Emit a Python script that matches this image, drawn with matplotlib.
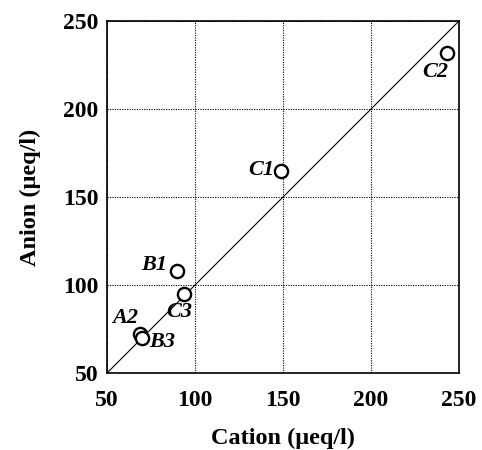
import matplotlib
matplotlib.use("Agg")
import matplotlib.pyplot as plt

labels = ["C2", "C1", "B1", "C3", "A2", "B3"]
cation = [243, 149, 90, 94, 69, 70]
anion = [232, 165, 108, 95, 72, 70]
label_x = [236.5, 137.5, 77, 91, 60.5, 81.5]
label_y = [221, 165.5, 111.5, 84.5, 81.5, 67.5]
ticks = [50, 100, 150, 200, 250]

plt.rcParams['font.family'] = ['Liberation Serif', 'DejaVu Serif']

fig = plt.figure(figsize=(4.82, 4.5), dpi=100)
ax = fig.add_axes([0.222, 0.171, 0.730, 0.782])
ax.set_xlim(50, 250)
ax.set_ylim(50, 250)
ax.set_xticks(ticks)
ax.set_yticks(ticks)
ax.set_xticklabels([str(t) for t in ticks], fontweight='bold', fontsize=17)
ax.set_yticklabels([str(t) for t in ticks], fontweight='bold', fontsize=17)
ax.tick_params(axis='x', length=0, pad=12)
ax.tick_params(axis='y', length=0, pad=6)
ax.grid(True, color='black', linestyle=(0, (1.0, 1.2)), linewidth=0.8)
ax.set_axisbelow(True)
for s in ax.spines.values():
    s.set_linewidth(1.2)
    s.set_color('black')

ax.plot([50, 250], [50, 250], color='black', linewidth=0.8)
ax.plot(cation, anion, linestyle='none', marker='o', markersize=9.5,
        markerfacecolor='white', markeredgecolor='black', markeredgewidth=1.7)
for t, x, y in zip(labels, label_x, label_y):
    ax.text(x, y, t, fontsize=16, fontweight='bold', fontstyle='italic',
            ha='center', va='center')

ax.set_xlabel('Cation (μeq/l)', fontsize=17.5, fontweight='bold', labelpad=12)
ax.set_ylabel('Anion (μeq/l)', fontsize=17.5, fontweight='bold', labelpad=16)

fig.savefig('out.png', dpi=100)
